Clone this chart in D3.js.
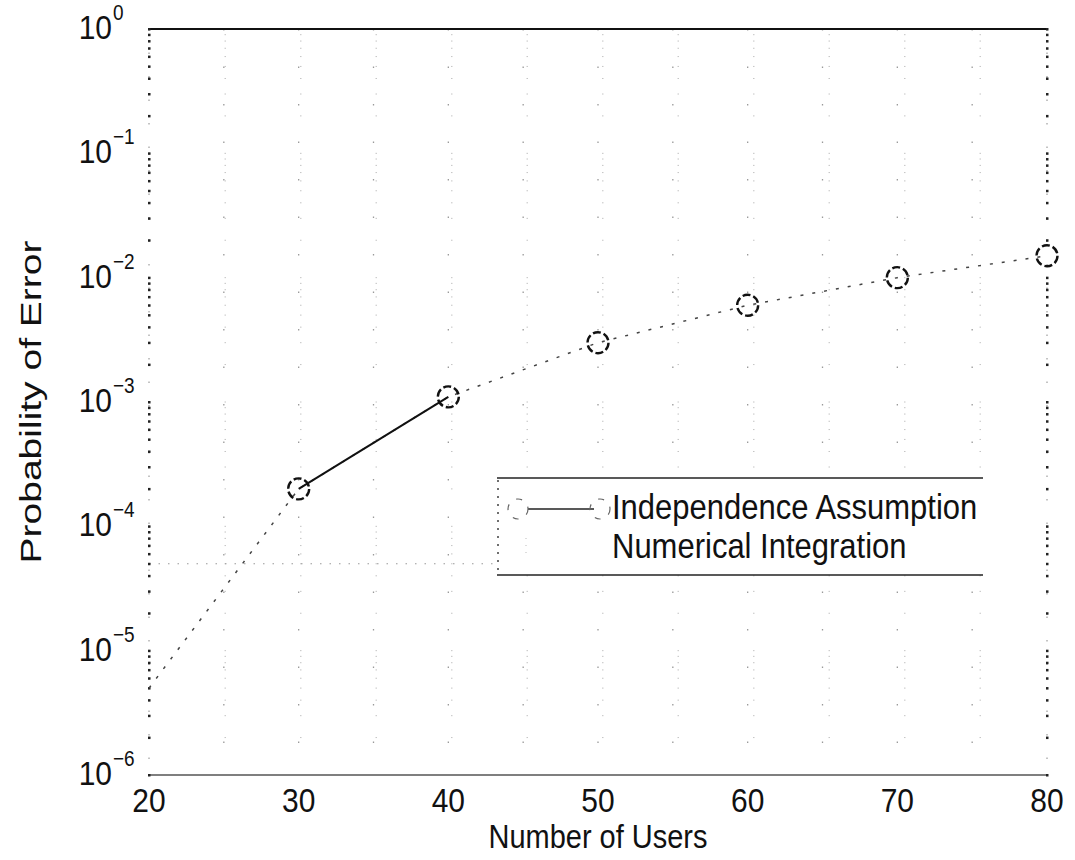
<!DOCTYPE html>
<html>
<head>
<meta charset="utf-8">
<script src="https://cdn.jsdelivr.net/npm/d3@7/dist/d3.min.js"></script>
<style>
  html, body { margin: 0; padding: 0; background: #fff; }
  svg { display: block; }
  text { font-family: "Liberation Sans", Arial, Helvetica, sans-serif; fill: #111; }
</style>
</head>
<body>
<svg id="chart" width="1075" height="860"></svg>
<script>
// ---- data ----
const xTicks = [20, 30, 40, 50, 60, 70, 80];
const yExponents = [0, -1, -2, -3, -4, -5, -6];
const seriesNames = ["Independence Assumption", "Numerical Integration"];
const indepUsers = [20, 30, 40, 50, 60, 70, 80];
const indepValues = [5e-6, 2.0e-4, 1.1e-3, 3.0e-3, 6.0e-3, 1.0e-2, 1.5e-2];
const numUsers = [30, 40];
const numValues = [2.0e-4, 1.1e-3];
const xLabel = "Number of Users";
const yLabel = "Probability of Error";

// ---- layout ----
const svg = d3.select("#chart");
const L = 149, R = 1047, T = 29, B = 775;
const x = d3.scaleLinear().domain([20, 80]).range([L, R]);
const y = d3.scaleLog().domain([1e-6, 1]).range([B, T]);
const SY = 1.12; // vertical glyph stretch seen in the scan

// grid: vertical every 5, horizontal at every k*10^n (sparse dots)
const g = svg.append("g");
const xGrid = d3.range(25, 80, 5);
g.selectAll("line.vg").data(xGrid).join("line")
  .attr("x1", d => x(d)).attr("x2", d => x(d))
  .attr("y1", T).attr("y2", B)
  .attr("stroke", "#9a9a9a").attr("stroke-width", 1.3)
  .attr("stroke-dasharray", "1.5,36");
const minorVals = [];
for (let e = -6; e < 0; e++) for (let k = 1; k <= 9; k++) minorVals.push(k * Math.pow(10, e));
g.selectAll("line.hg").data(minorVals.filter(v => v > 1e-6)).join("line")
  .attr("x1", L).attr("x2", R)
  .attr("y1", d => y(d)).attr("y2", d => y(d))
  .attr("stroke", "#c4c4c4").attr("stroke-width", 1)
  .attr("stroke-dasharray", "1.5,74");
// faint dotted reference line seen at 5e-5
g.append("line")
  .attr("x1", L).attr("x2", 497).attr("y1", y(5e-5)).attr("y2", y(5e-5))
  .attr("stroke", "#999").attr("stroke-width", 1).attr("stroke-dasharray", "1.5,8");

// frame
svg.append("line").attr("x1", L).attr("x2", R).attr("y1", T).attr("y2", T)
  .attr("stroke", "#111").attr("stroke-width", 1.8);
svg.append("line").attr("x1", L).attr("x2", R).attr("y1", B).attr("y2", B)
  .attr("stroke", "#555").attr("stroke-width", 1.4);
[L, R].forEach(px => {
  svg.append("line").attr("x1", px).attr("x2", px).attr("y1", T).attr("y2", B)
    .attr("stroke", "#888").attr("stroke-width", 1).attr("stroke-dasharray", "1.5,22");
});
// minor/major tick dots on left & right axes
const allTickVals = minorVals.concat([1]);
[L, R].forEach(px => {
  svg.selectAll(null).data(allTickVals).join("rect")
    .attr("x", px - 1).attr("y", d => y(d) - 1)
    .attr("width", 2.5).attr("height", 2.5).attr("fill", "#222");
});

// ---- series ----
const line = d3.line().x(d => x(d[0])).y(d => y(d[1]));
const indep = indepUsers.map((u, i) => [u, indepValues[i]]);
const numer = numUsers.map((u, i) => [u, numValues[i]]);
svg.append("path").datum(indep).attr("d", line)
  .attr("fill", "none").attr("stroke", "#444").attr("stroke-width", 1.5)
  .attr("stroke-dasharray", "3,9");
svg.append("path").datum(numer).attr("d", line)
  .attr("fill", "none").attr("stroke", "#111").attr("stroke-width", 2);
svg.selectAll("circle.pt").data(indep.slice(1)).join("circle")
  .attr("cx", d => x(d[0])).attr("cy", d => y(d[1])).attr("r", 10.5)
  .attr("fill", "none").attr("stroke", "#111").attr("stroke-width", 2.4)
  .attr("stroke-dasharray", "8,3");

// ---- axes labels ----
svg.selectAll("text.xt").data(xTicks).join("text")
  .attr("transform", d => `translate(${x(d)},812) scale(1,${SY})`)
  .attr("text-anchor", "middle").attr("font-size", 30)
  .text(d => d);
const yl = svg.selectAll("g.yt").data(yExponents).join("g")
  .attr("transform", d => `translate(0,${y(Math.pow(10, d))})`);
yl.append("text").attr("transform", `translate(112,10) scale(1,${SY})`)
  .attr("text-anchor", "end").attr("font-size", 30).text("10");
yl.append("text").attr("transform", `translate(113,-9) scale(1,${SY})`)
  .attr("text-anchor", "start").attr("font-size", 19)
  .text(d => d === 0 ? "0" : "\u2212" + Math.abs(d));

svg.append("text").attr("transform", `translate(${x(50)},848) scale(1,${SY})`)
  .attr("text-anchor", "middle").attr("font-size", 29).text(xLabel);
svg.append("text")
  .attr("transform", `translate(41,${(T + B) / 2}) rotate(-90) scale(1.3,1)`)
  .attr("text-anchor", "middle").attr("font-size", 30).text(yLabel);

// ---- legend ----
const lg = svg.append("g");
lg.append("rect").attr("x", 497).attr("y", 478).attr("width", 486).attr("height", 97)
  .attr("fill", "#fff").attr("stroke", "none");
lg.append("line").attr("x1", 497).attr("x2", 983).attr("y1", 478).attr("y2", 478)
  .attr("stroke", "#222").attr("stroke-width", 1.4);
lg.append("line").attr("x1", 497).attr("x2", 983).attr("y1", 575).attr("y2", 575)
  .attr("stroke", "#222").attr("stroke-width", 1.6);
lg.append("line").attr("x1", 498).attr("x2", 498).attr("y1", 480).attr("y2", 574)
  .attr("stroke", "#333").attr("stroke-width", 1.4).attr("stroke-dasharray", "2,6");
lg.append("line").attr("x1", 528).attr("x2", 594).attr("y1", 509).attr("y2", 509)
  .attr("stroke", "#222").attr("stroke-width", 1.6);
[518, 600].forEach(cx => {
  lg.append("circle").attr("cx", cx).attr("cy", 509).attr("r", 10)
    .attr("fill", "none").attr("stroke", "#666").attr("stroke-width", 1.2)
    .attr("stroke-dasharray", "6,9");
});
lg.append("line").attr("x1", 526).attr("x2", 526).attr("y1", 538).attr("y2", 558)
  .attr("stroke", "#bbb").attr("stroke-width", 1).attr("stroke-dasharray", "1,6");
lg.append("text").attr("transform", `translate(612,519) scale(1,${SY})`)
  .attr("font-size", 31).text(seriesNames[0]);
lg.append("text").attr("transform", `translate(612,558) scale(1,${SY})`)
  .attr("font-size", 31).text(seriesNames[1]);
</script>
</body>
</html>
